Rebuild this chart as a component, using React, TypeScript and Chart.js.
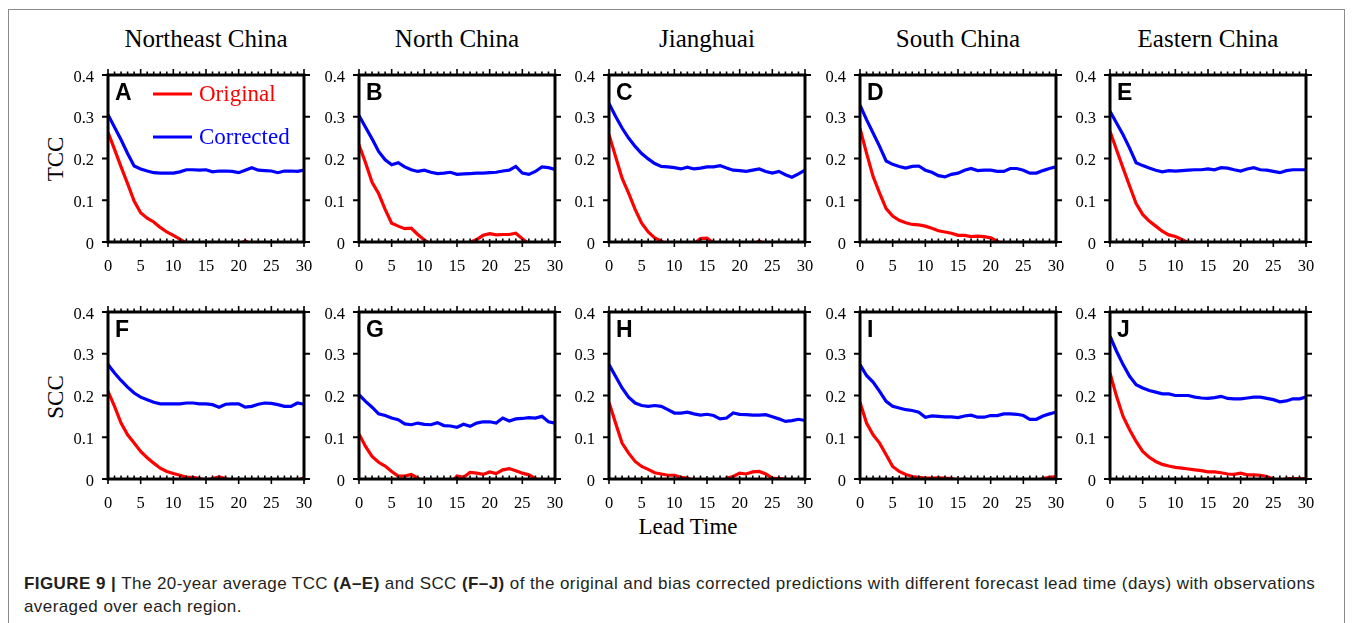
import React, { useEffect, useRef } from "react";
import { Chart, registerables } from "chart.js";

Chart.register(...registerables);

// ---------- data ----------
const LEAD_DAYS = [0, 1, 2, 3, 4, 5, 6, 7, 8, 9, 10, 11, 12, 13, 14, 15, 16, 17, 18, 19, 20, 21, 22, 23, 24, 25, 26, 27, 28, 29, 30];
const X_TICKS = [0, 5, 10, 15, 20, 25, 30];
const Y_TICKS = [0, 0.1, 0.2, 0.3, 0.4];
const REGIONS = ["Northeast China", "North China", "Jianghuai", "South China", "Eastern China"];
const TCC_LETTERS = ["A", "B", "C", "D", "E"];
const SCC_LETTERS = ["F", "G", "H", "I", "J"];
const SERIES_NAMES = ["Original", "Corrected"];

// TCC (A–E)
const TCC_ORIG_NE = [0.263, 0.222, 0.18, 0.14, 0.098, 0.07, 0.057, 0.048, 0.035, 0.024, 0.016, 0.007, -0.003, -0.02, -0.03, -0.03, -0.03, -0.03, -0.03, -0.02, -0.006, 0.003, -0.006, -0.02, -0.03, -0.03, -0.03, -0.03, -0.03, -0.03, -0.03];
const TCC_CORR_NE = [0.305, 0.275, 0.245, 0.212, 0.182, 0.175, 0.17, 0.166, 0.165, 0.165, 0.165, 0.168, 0.173, 0.173, 0.172, 0.173, 0.168, 0.17, 0.17, 0.169, 0.166, 0.172, 0.178, 0.172, 0.171, 0.17, 0.166, 0.17, 0.17, 0.169, 0.172];
const TCC_ORIG_N = [0.233, 0.19, 0.143, 0.116, 0.078, 0.045, 0.038, 0.032, 0.033, 0.018, 0.005, -0.006, -0.02, -0.03, -0.03, -0.03, -0.02, -0.001, 0.006, 0.016, 0.02, 0.017, 0.018, 0.018, 0.021, 0.008, -0.004, -0.02, -0.03, -0.03, -0.03];
const TCC_CORR_N = [0.303, 0.275, 0.247, 0.217, 0.197, 0.185, 0.19, 0.18, 0.173, 0.169, 0.172, 0.167, 0.164, 0.165, 0.167, 0.162, 0.163, 0.164, 0.165, 0.165, 0.166, 0.167, 0.17, 0.172, 0.181, 0.165, 0.162, 0.169, 0.18, 0.178, 0.174];
const TCC_ORIG_JH = [0.257, 0.205, 0.153, 0.117, 0.078, 0.045, 0.024, 0.01, 0.002, -0.008, -0.02, -0.03, -0.02, -0.004, 0.008, 0.009, -0.002, -0.02, -0.03, -0.03, -0.03, -0.02, -0.006, 0.002, -0.006, -0.02, -0.03, -0.03, -0.03, -0.03, -0.03];
const TCC_CORR_JH = [0.332, 0.301, 0.273, 0.249, 0.229, 0.212, 0.199, 0.188, 0.181, 0.18, 0.178, 0.175, 0.179, 0.175, 0.177, 0.18, 0.18, 0.183, 0.177, 0.172, 0.171, 0.169, 0.172, 0.175, 0.169, 0.165, 0.169, 0.161, 0.155, 0.163, 0.172];
const TCC_ORIG_S = [0.272, 0.213, 0.157, 0.117, 0.08, 0.062, 0.052, 0.046, 0.042, 0.041, 0.038, 0.033, 0.027, 0.024, 0.021, 0.016, 0.016, 0.013, 0.014, 0.013, 0.01, 0.002, -0.01, -0.03, -0.03, -0.03, -0.03, -0.03, -0.03, -0.03, -0.03];
const TCC_CORR_S = [0.328, 0.293, 0.261, 0.229, 0.194, 0.186, 0.181, 0.177, 0.181, 0.182, 0.172, 0.167, 0.159, 0.156, 0.162, 0.165, 0.172, 0.176, 0.171, 0.172, 0.172, 0.169, 0.169, 0.176, 0.176, 0.172, 0.165, 0.165, 0.171, 0.176, 0.18];
const TCC_ORIG_E = [0.265, 0.221, 0.177, 0.134, 0.092, 0.066, 0.05, 0.038, 0.026, 0.017, 0.013, 0.006, -0.002, -0.02, -0.03, -0.03, -0.03, -0.03, -0.03, -0.03, -0.03, -0.03, -0.03, -0.03, -0.03, -0.03, -0.03, -0.03, -0.03, -0.03, -0.03];
const TCC_CORR_E = [0.313, 0.285, 0.257, 0.225, 0.19, 0.183, 0.177, 0.172, 0.168, 0.171, 0.17, 0.171, 0.172, 0.173, 0.173, 0.175, 0.173, 0.178, 0.177, 0.173, 0.17, 0.175, 0.178, 0.173, 0.172, 0.169, 0.166, 0.171, 0.173, 0.173, 0.173];

// SCC (F–J)
const SCC_ORIG_NE = [0.21, 0.174, 0.134, 0.106, 0.086, 0.066, 0.051, 0.038, 0.026, 0.018, 0.013, 0.009, 0.004, 0.004, 0.001, -0.003, 0.001, 0.005, 0.001, -0.006, -0.02, -0.03, -0.03, -0.03, -0.03, -0.03, -0.03, -0.03, -0.02, -0.004, 0.003];
const SCC_CORR_NE = [0.274, 0.254, 0.236, 0.22, 0.206, 0.196, 0.19, 0.184, 0.18, 0.18, 0.18, 0.18, 0.182, 0.182, 0.18, 0.18, 0.178, 0.172, 0.179, 0.18, 0.18, 0.172, 0.174, 0.179, 0.182, 0.181, 0.178, 0.174, 0.174, 0.182, 0.179];
const SCC_ORIG_N = [0.108, 0.078, 0.054, 0.04, 0.031, 0.018, 0.007, 0.007, 0.011, 0.002, -0.01, -0.03, -0.03, -0.03, -0.01, 0.007, 0.004, 0.016, 0.014, 0.011, 0.017, 0.013, 0.022, 0.025, 0.02, 0.014, 0.01, 0.001, -0.01, -0.01, 0.001];
const SCC_CORR_N = [0.202, 0.186, 0.172, 0.156, 0.152, 0.146, 0.142, 0.132, 0.13, 0.134, 0.131, 0.13, 0.135, 0.128, 0.127, 0.124, 0.131, 0.126, 0.134, 0.137, 0.137, 0.134, 0.146, 0.139, 0.144, 0.145, 0.147, 0.146, 0.15, 0.137, 0.134];
const SCC_ORIG_JH = [0.184, 0.134, 0.086, 0.062, 0.042, 0.03, 0.023, 0.015, 0.012, 0.009, 0.009, 0.004, 0.002, -0.004, -0.02, -0.03, -0.03, -0.02, 0.002, 0.006, 0.014, 0.012, 0.017, 0.018, 0.012, 0.002, 0.001, 0.0, -0.01, -0.03, -0.03];
const SCC_CORR_JH = [0.274, 0.246, 0.218, 0.196, 0.182, 0.176, 0.174, 0.176, 0.174, 0.166, 0.158, 0.158, 0.16, 0.156, 0.153, 0.155, 0.152, 0.144, 0.146, 0.158, 0.155, 0.154, 0.153, 0.153, 0.154, 0.149, 0.144, 0.138, 0.14, 0.143, 0.14];
const SCC_ORIG_S = [0.184, 0.134, 0.106, 0.086, 0.058, 0.03, 0.018, 0.011, 0.006, 0.004, 0.002, 0.002, 0.003, 0.002, 0.001, -0.003, 0.001, -0.004, -0.02, -0.03, -0.03, -0.03, -0.03, -0.03, -0.03, -0.03, -0.02, -0.005, 0.001, 0.004, 0.006];
const SCC_CORR_S = [0.274, 0.248, 0.232, 0.21, 0.186, 0.174, 0.17, 0.166, 0.164, 0.16, 0.148, 0.151, 0.15, 0.149, 0.149, 0.147, 0.151, 0.153, 0.148, 0.148, 0.152, 0.152, 0.156, 0.156, 0.155, 0.152, 0.143, 0.143, 0.151, 0.156, 0.16];
const SCC_ORIG_E = [0.254, 0.198, 0.15, 0.118, 0.09, 0.066, 0.052, 0.042, 0.035, 0.031, 0.028, 0.026, 0.024, 0.022, 0.02, 0.017, 0.017, 0.015, 0.012, 0.011, 0.014, 0.01, 0.01, 0.009, 0.006, 0.0, -0.005, 0.001, 0.001, 0.001, 0.001];
const SCC_CORR_E = [0.342, 0.306, 0.274, 0.246, 0.226, 0.218, 0.212, 0.208, 0.204, 0.204, 0.2, 0.2, 0.2, 0.196, 0.194, 0.193, 0.195, 0.198, 0.193, 0.192, 0.192, 0.194, 0.196, 0.196, 0.193, 0.19, 0.185, 0.187, 0.192, 0.192, 0.196];

const TCC_ORIG = [TCC_ORIG_NE, TCC_ORIG_N, TCC_ORIG_JH, TCC_ORIG_S, TCC_ORIG_E];
const TCC_CORR = [TCC_CORR_NE, TCC_CORR_N, TCC_CORR_JH, TCC_CORR_S, TCC_CORR_E];
const SCC_ORIG = [SCC_ORIG_NE, SCC_ORIG_N, SCC_ORIG_JH, SCC_ORIG_S, SCC_ORIG_E];
const SCC_CORR = [SCC_CORR_NE, SCC_CORR_N, SCC_CORR_JH, SCC_CORR_S, SCC_CORR_E];

// ---------- layout ----------
const SERIF = "'Liberation Serif', 'Times New Roman', Times, serif";
const SANS = "'Liberation Sans', Arial, Helvetica, sans-serif";
const RED = "#ff0000";
const BLUE = "#0000ff";
const COL_LEFT = [108, 359, 609, 860, 1110];
const ROW_TOP = [75, 312];
const PLOT_W = 196;
const PLOT_H = 167;
const PAD_L = 60;
const PAD_T = 20;
const PAD_R = 20;
const PAD_B = 40;

const fmtY = (v: number) => String(Number(Number(v).toFixed(1)));

const framePlugin = {
  id: "frame",
  afterDatasetsDraw(chart: any, _args: any, opts: any) {
    const { ctx, chartArea: a, scales } = chart;
    const xs = scales.x;
    const ys = scales.y;
    ctx.save();
    ctx.strokeStyle = "#000";
    ctx.lineWidth = 1.6;
    ctx.beginPath();
    for (const d of LEAD_DAYS) {
      const px = xs.getPixelForValue(d);
      const major = X_TICKS.includes(d);
      ctx.moveTo(px, a.top);
      ctx.lineTo(px, a.top - (major ? 6 : 3.5));
      if (major) {
        ctx.moveTo(px, a.bottom - 3);
        ctx.lineTo(px, a.bottom + 5);
      } else {
        ctx.moveTo(px, a.bottom);
        ctx.lineTo(px, a.bottom - 3.5);
      }
    }
    ctx.stroke();
    ctx.lineWidth = 2.2;
    ctx.beginPath();
    for (const t of ys.ticks) {
      const py = ys.getPixelForValue(t.value);
      ctx.moveTo(a.left - 6, py);
      ctx.lineTo(a.left, py);
      ctx.moveTo(a.right, py);
      ctx.lineTo(a.right + 6, py);
    }
    ctx.stroke();
    ctx.lineWidth = 3;
    ctx.strokeRect(a.left, a.top, a.right - a.left, a.bottom - a.top);

    // tick labels from the scales' own ticks
    ctx.fillStyle = "#000";
    ctx.font = `16.5px ${SERIF}`;
    ctx.textBaseline = "alphabetic";
    ctx.textAlign = "center";
    for (const t of xs.ticks) {
      ctx.fillText(String(t.value), xs.getPixelForValue(t.value), a.bottom + 29);
    }
    ctx.textAlign = "right";
    for (const t of ys.ticks) {
      ctx.fillText(fmtY(t.value), a.left - 14, ys.getPixelForValue(t.value) + 6.5);
    }

    // panel letter
    ctx.font = `bold 23px ${SANS}`;
    ctx.textAlign = "left";
    ctx.fillText(opts.letter, a.left + 7, a.top + 25);

    if (opts.legend) {
      const items = [
        { label: SERIES_NAMES[0], color: RED, y: 19, base: 26 },
        { label: SERIES_NAMES[1], color: BLUE, y: 62, base: 69 },
      ];
      for (const it of items) {
        ctx.strokeStyle = it.color;
        ctx.lineWidth = 3.2;
        ctx.beginPath();
        ctx.moveTo(a.left + 45, a.top + it.y);
        ctx.lineTo(a.left + 84, a.top + it.y);
        ctx.stroke();
        ctx.fillStyle = it.color;
        ctx.font = `23px ${SERIF}`;
        ctx.fillText(it.label, a.left + 91, a.top + it.base);
      }
    }
    ctx.restore();
  },
};

function Panel(props: { left: number; top: number; orig: number[]; corr: number[]; letter: string; legend: boolean }) {
  const ref = useRef<HTMLCanvasElement | null>(null);
  const { orig, corr, letter, legend } = props;
  useEffect(() => {
    if (!ref.current) return;
    const chart = new Chart(ref.current, {
      type: "line",
      data: {
        datasets: [
          {
            label: SERIES_NAMES[0],
            data: LEAD_DAYS.map((d, i) => ({ x: d, y: orig[i] })),
            borderColor: RED,
            borderWidth: 3.2,
            pointRadius: 0,
            tension: 0,
            fill: false,
            clip: 0,
          } as any,
          {
            label: SERIES_NAMES[1],
            data: LEAD_DAYS.map((d, i) => ({ x: d, y: corr[i] })),
            borderColor: BLUE,
            borderWidth: 3.2,
            pointRadius: 0,
            tension: 0,
            fill: false,
            clip: 0,
          } as any,
        ],
      },
      options: {
        responsive: false,
        animation: false,
        events: [],
        layout: { padding: { left: 0, top: PAD_T, right: PAD_R, bottom: 0 } },
        plugins: {
          legend: { display: false },
          tooltip: { enabled: false },
          frame: { letter, legend },
        } as any,
        scales: {
          x: {
            type: "linear",
            position: "bottom",
            min: 0,
            max: 30,
            afterBuildTicks: (s: any) => {
              s.ticks = X_TICKS.map((v) => ({ value: v }));
            },
            afterFit: (s: any) => {
              s.height = PAD_B;
            },
            grid: { display: false, drawTicks: false },
            border: { display: false },
            ticks: { display: false },
          },
          y: {
            type: "linear",
            position: "left",
            min: 0,
            max: 0.4,
            afterBuildTicks: (s: any) => {
              s.ticks = Y_TICKS.map((v) => ({ value: v }));
            },
            afterFit: (s: any) => {
              s.width = PAD_L;
            },
            grid: { display: false, drawTicks: false },
            border: { display: false },
            ticks: { display: false },
          },
        },
      } as any,
      plugins: [framePlugin as any],
    });
    return () => chart.destroy();
  }, [orig, corr, letter, legend]);

  return (
    <canvas
      ref={ref}
      width={PLOT_W + PAD_L + PAD_R}
      height={PLOT_H + PAD_T + PAD_B}
      style={{
        position: "absolute",
        left: props.left - PAD_L,
        top: props.top - PAD_T,
        width: PLOT_W + PAD_L + PAD_R,
        height: PLOT_H + PAD_T + PAD_B,
      }}
    />
  );
}

function CenterText(props: { x: number; y: number; size: number; text: string; rotate?: boolean }) {
  return (
    <div
      style={{
        position: "absolute",
        left: props.x,
        top: props.y,
        transform: `translate(-50%, -50%)${props.rotate ? " rotate(-90deg)" : ""}`,
        fontFamily: SERIF,
        fontSize: props.size,
        lineHeight: 1,
        whiteSpace: "nowrap",
        color: "#000",
      }}
    >
      {props.text}
    </div>
  );
}

export default function App() {
  return (
    <div
      style={{
        position: "fixed",
        left: 0,
        top: 0,
        width: 1356,
        height: 623,
        overflow: "hidden",
        background: "#fff",
      }}
    >
      <div
        style={{
          position: "absolute",
          left: 8,
          top: 9,
          width: 1337,
          height: 700,
          border: "1.5px solid #8a8a8a",
          boxSizing: "border-box",
        }}
      />
      {REGIONS.map((r, i) => (
        <CenterText key={r} x={COL_LEFT[i] + PLOT_W / 2} y={38} size={25} text={r} />
      ))}
      <CenterText x={55} y={ROW_TOP[0] + PLOT_H / 2} size={23} text="TCC" rotate />
      <CenterText x={55} y={ROW_TOP[1] + PLOT_H / 2 + 1} size={23} text="SCC" rotate />
      <CenterText x={688} y={526} size={23} text="Lead Time" />
      {REGIONS.map((r, i) => (
        <Panel
          key={"tcc" + r}
          left={COL_LEFT[i]}
          top={ROW_TOP[0]}
          orig={TCC_ORIG[i]}
          corr={TCC_CORR[i]}
          letter={TCC_LETTERS[i]}
          legend={i === 0}
        />
      ))}
      {REGIONS.map((r, i) => (
        <Panel
          key={"scc" + r}
          left={COL_LEFT[i]}
          top={ROW_TOP[1]}
          orig={SCC_ORIG[i]}
          corr={SCC_CORR[i]}
          letter={SCC_LETTERS[i]}
          legend={false}
        />
      ))}
      <div
        style={{
          position: "absolute",
          left: 24,
          top: 572,
          fontFamily: SANS,
          fontSize: 17,
          letterSpacing: "0.42px",
          lineHeight: "23px",
          color: "#231f20",
          whiteSpace: "nowrap",
        }}
      >
        <b>FIGURE 9 | </b>The 20-year average TCC <b>(A–E)</b> and SCC <b>(F–J)</b> of the original and bias corrected
        predictions with different forecast lead time (days) with observations
        <br />
        averaged over each region.
      </div>
    </div>
  );
}
